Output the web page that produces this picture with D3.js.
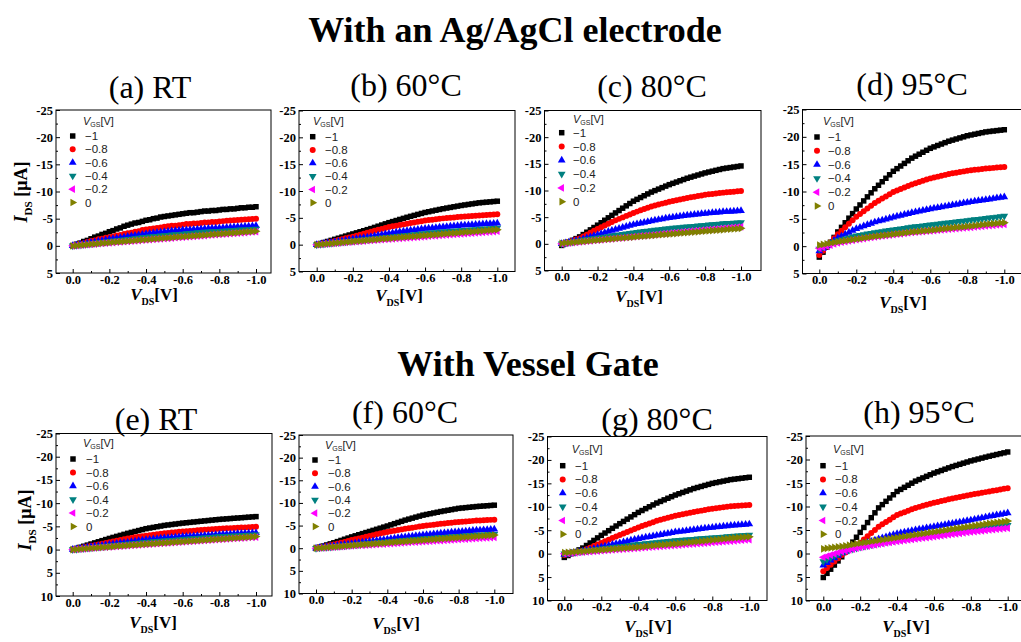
<!DOCTYPE html>
<html>
<head>
<meta charset="utf-8">
<script src="https://cdn.jsdelivr.net/npm/d3@7"></script>
<style>
  body { margin: 0; background: #fff; }
  svg { display: block; }
</style>
</head>
<body>
<svg id="chart"></svg>
<script>
// V_DS sweep (V), shared by every curve
var vds = [0,-0.02,-0.04,-0.06,-0.08,-0.1,-0.12,-0.14,-0.16,-0.18,-0.2,-0.22,-0.24,-0.26,-0.28,-0.3,-0.32,-0.34,-0.36,-0.38,-0.4,-0.42,-0.44,-0.46,-0.48,-0.5,-0.52,-0.54,-0.56,-0.58,-0.6,-0.62,-0.64,-0.66,-0.68,-0.7,-0.72,-0.74,-0.76,-0.78,-0.8,-0.82,-0.84,-0.86,-0.88,-0.9,-0.92,-0.94,-0.96,-0.98,-1.0];

var vgsLabels = ["\u22121", "\u22120.8", "\u22120.6", "\u22120.4", "\u22120.2", "0"];
var panelTitles = ["(a) RT", "(b) 60\u00b0C", "(c) 80\u00b0C", "(d) 95\u00b0C", "(e) RT", "(f) 60\u00b0C", "(g) 80\u00b0C", "(h) 95\u00b0C"];
var groupTitles = ["With an Ag/AgCl electrode", "With Vessel Gate"];
var xTicks = [0, -0.2, -0.4, -0.6, -0.8, -1.0];
var xMinor = [-0.1, -0.3, -0.5, -0.7, -0.9];
var yTicksAg = [-25, -20, -15, -10, -5, 0, 5];
var yTicksVessel = [-25, -20, -15, -10, -5, 0, 5, 10];

// I_DS (uA), Ag/AgCl electrode
var agRT_vg1 = [0,-0.3,-0.5,-0.8,-1.0,-1.3,-1.6,-1.8,-2.1,-2.3,-2.6,-2.8,-3.1,-3.3,-3.6,-3.8,-4.0,-4.2,-4.3,-4.5,-4.7,-4.8,-5.0,-5.1,-5.3,-5.4,-5.5,-5.6,-5.7,-5.8,-5.9,-6.0,-6.1,-6.1,-6.2,-6.3,-6.4,-6.4,-6.5,-6.5,-6.6,-6.7,-6.7,-6.8,-6.8,-6.9,-7.0,-7.0,-7.1,-7.1,-7.2];
var agRT_vg08 = [0,-0.2,-0.4,-0.5,-0.7,-0.9,-1.0,-1.2,-1.3,-1.5,-1.6,-1.7,-1.9,-2.0,-2.2,-2.3,-2.4,-2.6,-2.7,-2.9,-3.0,-3.1,-3.2,-3.3,-3.4,-3.5,-3.6,-3.7,-3.7,-3.8,-3.9,-4.0,-4.0,-4.1,-4.1,-4.2,-4.3,-4.3,-4.4,-4.4,-4.5,-4.55,-4.6,-4.65,-4.7,-4.75,-4.8,-4.85,-4.9,-4.95,-5.0];
var agRT_vg06 = [0,-0.12,-0.24,-0.36,-0.48,-0.6,-0.72,-0.84,-0.96,-1.08,-1.2,-1.3,-1.4,-1.5,-1.6,-1.7,-1.8,-1.9,-2.0,-2.1,-2.2,-2.28,-2.36,-2.44,-2.52,-2.6,-2.66,-2.72,-2.78,-2.84,-2.9,-2.94,-2.98,-3.02,-3.06,-3.1,-3.14,-3.18,-3.22,-3.26,-3.3,-3.34,-3.38,-3.42,-3.46,-3.5,-3.54,-3.58,-3.62,-3.66,-3.7];
var agRT_vg04 = [0,-0.08,-0.16,-0.24,-0.32,-0.4,-0.48,-0.56,-0.64,-0.72,-0.8,-0.88,-0.96,-1.04,-1.12,-1.2,-1.28,-1.36,-1.44,-1.52,-1.6,-1.66,-1.72,-1.78,-1.84,-1.9,-1.96,-2.02,-2.08,-2.14,-2.2,-2.26,-2.32,-2.38,-2.44,-2.5,-2.54,-2.58,-2.62,-2.66,-2.7,-2.74,-2.78,-2.82,-2.86,-2.9,-2.94,-2.98,-3.02,-3.06,-3.1];
var agRT_vg02 = [0,-0.06,-0.11,-0.17,-0.22,-0.28,-0.33,-0.39,-0.44,-0.5,-0.55,-0.6,-0.66,-0.71,-0.77,-0.82,-0.87,-0.92,-0.98,-1.03,-1.08,-1.13,-1.18,-1.24,-1.29,-1.34,-1.39,-1.44,-1.5,-1.55,-1.6,-1.65,-1.7,-1.75,-1.8,-1.85,-1.9,-1.95,-2.0,-2.05,-2.1,-2.15,-2.2,-2.25,-2.3,-2.35,-2.4,-2.45,-2.5,-2.55,-2.6];
var agRT_vg0 = [0,-0.06,-0.12,-0.18,-0.24,-0.3,-0.36,-0.42,-0.48,-0.54,-0.6,-0.66,-0.71,-0.77,-0.82,-0.88,-0.93,-0.99,-1.04,-1.1,-1.15,-1.2,-1.26,-1.31,-1.37,-1.42,-1.47,-1.52,-1.58,-1.63,-1.68,-1.73,-1.78,-1.84,-1.89,-1.94,-1.99,-2.04,-2.1,-2.15,-2.2,-2.25,-2.3,-2.35,-2.4,-2.45,-2.5,-2.55,-2.6,-2.65,-2.7];

var ag60_vg1 = [0,-0.2,-0.4,-0.6,-0.8,-1.0,-1.2,-1.4,-1.6,-1.8,-2.0,-2.2,-2.4,-2.6,-2.8,-3.0,-3.22,-3.44,-3.66,-3.88,-4.1,-4.3,-4.5,-4.7,-4.9,-5.1,-5.28,-5.46,-5.64,-5.82,-6.0,-6.14,-6.28,-6.42,-6.56,-6.7,-6.82,-6.94,-7.06,-7.18,-7.3,-7.4,-7.5,-7.6,-7.7,-7.8,-7.86,-7.92,-7.98,-8.04,-8.1];
var ag60_vg08 = [0,-0.14,-0.28,-0.42,-0.56,-0.7,-0.86,-1.02,-1.18,-1.34,-1.5,-1.68,-1.86,-2.04,-2.22,-2.4,-2.58,-2.76,-2.94,-3.12,-3.3,-3.42,-3.54,-3.66,-3.78,-3.9,-4.02,-4.14,-4.26,-4.38,-4.5,-4.58,-4.66,-4.74,-4.82,-4.9,-4.96,-5.02,-5.08,-5.14,-5.2,-5.25,-5.3,-5.35,-5.4,-5.45,-5.49,-5.53,-5.57,-5.61,-5.65];
var ag60_vg06 = [0,-0.1,-0.2,-0.3,-0.4,-0.5,-0.6,-0.7,-0.8,-0.9,-1.0,-1.1,-1.2,-1.3,-1.4,-1.5,-1.62,-1.74,-1.86,-1.98,-2.1,-2.2,-2.3,-2.4,-2.5,-2.6,-2.68,-2.76,-2.84,-2.92,-3.0,-3.06,-3.12,-3.18,-3.24,-3.3,-3.36,-3.42,-3.48,-3.54,-3.6,-3.64,-3.68,-3.72,-3.76,-3.8,-3.84,-3.88,-3.92,-3.96,-4.0];
var ag60_vg04 = [0,-0.07,-0.14,-0.21,-0.28,-0.35,-0.42,-0.49,-0.56,-0.63,-0.7,-0.77,-0.84,-0.91,-0.98,-1.05,-1.12,-1.19,-1.26,-1.33,-1.4,-1.47,-1.54,-1.61,-1.68,-1.75,-1.82,-1.89,-1.96,-2.03,-2.1,-2.16,-2.22,-2.28,-2.34,-2.4,-2.45,-2.5,-2.55,-2.6,-2.65,-2.7,-2.75,-2.8,-2.85,-2.9,-2.94,-2.98,-3.02,-3.06,-3.1];
var ag60_vg02 = [0,-0.05,-0.1,-0.16,-0.21,-0.26,-0.31,-0.36,-0.42,-0.47,-0.52,-0.57,-0.62,-0.68,-0.73,-0.78,-0.83,-0.88,-0.93,-0.98,-1.03,-1.08,-1.13,-1.18,-1.23,-1.28,-1.33,-1.38,-1.42,-1.47,-1.52,-1.57,-1.62,-1.66,-1.71,-1.76,-1.81,-1.86,-1.9,-1.95,-2.0,-2.05,-2.1,-2.15,-2.2,-2.25,-2.3,-2.35,-2.4,-2.45,-2.5];
var ag60_vg0 = [0,-0.06,-0.12,-0.18,-0.24,-0.3,-0.36,-0.42,-0.48,-0.54,-0.6,-0.66,-0.72,-0.77,-0.83,-0.89,-0.95,-1.0,-1.06,-1.11,-1.17,-1.23,-1.28,-1.34,-1.39,-1.45,-1.5,-1.56,-1.61,-1.67,-1.72,-1.78,-1.83,-1.89,-1.94,-2.0,-2.05,-2.11,-2.16,-2.22,-2.27,-2.32,-2.38,-2.43,-2.49,-2.54,-2.59,-2.64,-2.7,-2.75,-2.8];

var ag80_vg1 = [0.3,-0.02,-0.34,-0.66,-0.98,-1.3,-1.74,-2.18,-2.62,-3.06,-3.5,-3.96,-4.42,-4.88,-5.34,-5.8,-6.24,-6.68,-7.12,-7.56,-8.0,-8.34,-8.68,-9.02,-9.36,-9.7,-9.98,-10.26,-10.54,-10.82,-11.1,-11.34,-11.58,-11.82,-12.06,-12.3,-12.5,-12.7,-12.9,-13.1,-13.3,-13.46,-13.62,-13.78,-13.94,-14.1,-14.2,-14.3,-14.4,-14.5,-14.6];
var ag80_vg08 = [0,-0.2,-0.4,-0.6,-0.8,-1.0,-1.36,-1.72,-2.08,-2.44,-2.8,-3.12,-3.44,-3.76,-4.08,-4.4,-4.68,-4.96,-5.24,-5.52,-5.8,-6.04,-6.28,-6.52,-6.76,-7.0,-7.18,-7.36,-7.54,-7.72,-7.9,-8.04,-8.18,-8.32,-8.46,-8.6,-8.72,-8.84,-8.96,-9.08,-9.2,-9.28,-9.36,-9.44,-9.52,-9.6,-9.66,-9.72,-9.78,-9.84,-9.9];
var ag80_vg06 = [0,-0.14,-0.28,-0.42,-0.56,-0.7,-0.9,-1.1,-1.3,-1.5,-1.7,-1.9,-2.1,-2.3,-2.5,-2.7,-2.88,-3.06,-3.24,-3.42,-3.6,-3.74,-3.88,-4.02,-4.16,-4.3,-4.42,-4.54,-4.66,-4.78,-4.9,-4.99,-5.08,-5.17,-5.26,-5.35,-5.42,-5.49,-5.56,-5.63,-5.7,-5.76,-5.82,-5.88,-5.94,-6.0,-6.04,-6.08,-6.12,-6.16,-6.2];
var ag80_vg04 = [0,-0.12,-0.24,-0.36,-0.48,-0.6,-0.7,-0.8,-0.9,-1.0,-1.1,-1.2,-1.3,-1.4,-1.5,-1.6,-1.7,-1.8,-1.9,-2.0,-2.1,-2.18,-2.26,-2.34,-2.42,-2.5,-2.58,-2.66,-2.74,-2.82,-2.9,-2.96,-3.02,-3.08,-3.14,-3.2,-3.26,-3.32,-3.38,-3.44,-3.5,-3.56,-3.62,-3.68,-3.74,-3.8,-3.84,-3.88,-3.92,-3.96,-4.0];
var ag80_vg02 = [0,-0.07,-0.14,-0.21,-0.28,-0.35,-0.42,-0.49,-0.56,-0.63,-0.7,-0.76,-0.82,-0.88,-0.94,-1.0,-1.07,-1.14,-1.21,-1.28,-1.35,-1.41,-1.47,-1.53,-1.59,-1.65,-1.72,-1.79,-1.86,-1.93,-2.0,-2.06,-2.12,-2.18,-2.24,-2.3,-2.36,-2.42,-2.48,-2.54,-2.6,-2.66,-2.72,-2.78,-2.84,-2.9,-2.96,-3.02,-3.08,-3.14,-3.2];
var ag80_vg0 = [-0.1,-0.16,-0.22,-0.28,-0.34,-0.4,-0.46,-0.52,-0.58,-0.64,-0.7,-0.76,-0.82,-0.87,-0.93,-0.99,-1.05,-1.1,-1.16,-1.21,-1.27,-1.33,-1.38,-1.44,-1.49,-1.55,-1.6,-1.66,-1.71,-1.77,-1.82,-1.88,-1.93,-1.99,-2.04,-2.1,-2.15,-2.21,-2.26,-2.32,-2.37,-2.42,-2.48,-2.53,-2.59,-2.64,-2.69,-2.74,-2.8,-2.85,-2.9];

var ag95_vg1 = [2.0,1.1,0.2,-0.7,-1.6,-2.6,-3.44,-4.28,-5.12,-5.96,-6.8,-7.54,-8.28,-9.02,-9.76,-10.5,-11.14,-11.78,-12.42,-13.06,-13.7,-14.18,-14.66,-15.14,-15.62,-16.1,-16.46,-16.82,-17.18,-17.54,-17.9,-18.16,-18.42,-18.68,-18.94,-19.2,-19.4,-19.6,-19.8,-20.0,-20.2,-20.34,-20.48,-20.62,-20.76,-20.9,-20.98,-21.06,-21.14,-21.22,-21.3];
var ag95_vg08 = [1.6,0.84,0.08,-0.68,-1.44,-2.2,-2.84,-3.48,-4.12,-4.76,-5.4,-5.9,-6.4,-6.9,-7.4,-7.9,-8.3,-8.7,-9.1,-9.5,-9.9,-10.18,-10.46,-10.74,-11.02,-11.3,-11.52,-11.74,-11.96,-12.18,-12.4,-12.56,-12.72,-12.88,-13.04,-13.2,-13.32,-13.44,-13.56,-13.68,-13.8,-13.88,-13.96,-14.04,-14.12,-14.2,-14.26,-14.32,-14.38,-14.44,-14.5];
var ag95_vg06 = [0.9,0.42,-0.06,-0.54,-1.02,-1.5,-1.84,-2.18,-2.52,-2.86,-3.2,-3.44,-3.68,-3.92,-4.16,-4.4,-4.58,-4.76,-4.94,-5.12,-5.3,-5.46,-5.62,-5.78,-5.94,-6.1,-6.24,-6.38,-6.52,-6.66,-6.8,-6.92,-7.04,-7.16,-7.28,-7.4,-7.52,-7.64,-7.76,-7.88,-8.0,-8.1,-8.2,-8.3,-8.4,-8.5,-8.6,-8.7,-8.8,-8.9,-9.0];
var ag95_vg04 = [0.5,0.2,-0.1,-0.4,-0.7,-1.0,-1.18,-1.36,-1.54,-1.72,-1.9,-2.02,-2.14,-2.26,-2.38,-2.5,-2.6,-2.7,-2.8,-2.9,-3.0,-3.1,-3.2,-3.3,-3.4,-3.5,-3.58,-3.66,-3.74,-3.82,-3.9,-3.98,-4.06,-4.14,-4.22,-4.3,-4.38,-4.46,-4.54,-4.62,-4.7,-4.78,-4.86,-4.94,-5.02,-5.1,-5.18,-5.26,-5.34,-5.42,-5.5];
var ag95_vg02 = [0.4,0.2,0,-0.2,-0.4,-0.6,-0.72,-0.84,-0.96,-1.08,-1.2,-1.3,-1.4,-1.5,-1.6,-1.7,-1.78,-1.86,-1.94,-2.02,-2.1,-2.18,-2.26,-2.34,-2.42,-2.5,-2.56,-2.62,-2.68,-2.74,-2.8,-2.86,-2.92,-2.98,-3.04,-3.1,-3.16,-3.22,-3.28,-3.34,-3.4,-3.46,-3.52,-3.58,-3.64,-3.7,-3.76,-3.82,-3.88,-3.94,-4.0];
var ag95_vg0 = [-0.2,-0.32,-0.44,-0.56,-0.68,-0.8,-0.9,-1.0,-1.1,-1.2,-1.3,-1.4,-1.5,-1.6,-1.7,-1.8,-1.88,-1.96,-2.04,-2.12,-2.2,-2.28,-2.36,-2.44,-2.52,-2.6,-2.66,-2.72,-2.78,-2.84,-2.9,-2.98,-3.06,-3.14,-3.22,-3.3,-3.36,-3.42,-3.48,-3.54,-3.6,-3.68,-3.76,-3.84,-3.92,-4.0,-4.06,-4.12,-4.18,-4.24,-4.3];

// I_DS (uA), vessel gate
var vsRT_vg1 = [0,-0.24,-0.48,-0.72,-0.96,-1.2,-1.44,-1.68,-1.92,-2.16,-2.4,-2.62,-2.84,-3.06,-3.28,-3.5,-3.7,-3.9,-4.1,-4.3,-4.5,-4.64,-4.78,-4.92,-5.06,-5.2,-5.3,-5.4,-5.5,-5.6,-5.7,-5.78,-5.86,-5.94,-6.02,-6.1,-6.18,-6.26,-6.34,-6.42,-6.5,-6.56,-6.62,-6.68,-6.74,-6.8,-6.86,-6.92,-6.98,-7.04,-7.1];
var vsRT_vg08 = [0,-0.16,-0.32,-0.48,-0.64,-0.8,-0.96,-1.12,-1.28,-1.44,-1.6,-1.76,-1.92,-2.08,-2.24,-2.4,-2.52,-2.64,-2.76,-2.88,-3.0,-3.1,-3.2,-3.3,-3.4,-3.5,-3.58,-3.66,-3.74,-3.82,-3.9,-3.96,-4.02,-4.08,-4.14,-4.2,-4.26,-4.32,-4.38,-4.44,-4.5,-4.54,-4.58,-4.62,-4.66,-4.7,-4.74,-4.78,-4.82,-4.86,-4.9];
var vsRT_vg06 = [0,-0.12,-0.24,-0.36,-0.48,-0.6,-0.7,-0.8,-0.9,-1.0,-1.1,-1.2,-1.3,-1.4,-1.5,-1.6,-1.7,-1.8,-1.9,-2.0,-2.1,-2.18,-2.26,-2.34,-2.42,-2.5,-2.56,-2.62,-2.68,-2.74,-2.8,-2.84,-2.88,-2.92,-2.96,-3.0,-3.05,-3.1,-3.15,-3.2,-3.25,-3.29,-3.33,-3.37,-3.41,-3.45,-3.48,-3.51,-3.54,-3.57,-3.6];
var vsRT_vg04 = [0,-0.08,-0.16,-0.24,-0.32,-0.4,-0.48,-0.56,-0.64,-0.72,-0.8,-0.88,-0.96,-1.04,-1.12,-1.2,-1.28,-1.36,-1.44,-1.52,-1.6,-1.66,-1.72,-1.78,-1.84,-1.9,-1.96,-2.02,-2.08,-2.14,-2.2,-2.26,-2.32,-2.38,-2.44,-2.5,-2.56,-2.62,-2.68,-2.74,-2.8,-2.84,-2.88,-2.92,-2.96,-3.0,-3.04,-3.08,-3.12,-3.16,-3.2];
var vsRT_vg02 = [0,-0.06,-0.12,-0.17,-0.23,-0.29,-0.35,-0.4,-0.46,-0.51,-0.57,-0.63,-0.68,-0.74,-0.79,-0.85,-0.9,-0.96,-1.01,-1.07,-1.12,-1.17,-1.23,-1.28,-1.34,-1.39,-1.44,-1.49,-1.55,-1.6,-1.65,-1.7,-1.76,-1.81,-1.87,-1.92,-1.97,-2.02,-2.08,-2.13,-2.18,-2.23,-2.28,-2.34,-2.39,-2.44,-2.49,-2.54,-2.6,-2.65,-2.7];
var vsRT_vg0 = [0,-0.06,-0.12,-0.18,-0.24,-0.3,-0.36,-0.42,-0.48,-0.54,-0.6,-0.66,-0.72,-0.77,-0.83,-0.89,-0.95,-1.0,-1.06,-1.11,-1.17,-1.23,-1.28,-1.34,-1.39,-1.45,-1.5,-1.56,-1.61,-1.67,-1.72,-1.78,-1.83,-1.89,-1.94,-2.0,-2.05,-2.11,-2.16,-2.22,-2.27,-2.32,-2.38,-2.43,-2.49,-2.54,-2.59,-2.64,-2.7,-2.75,-2.8];

var vs60_vg1 = [0,-0.24,-0.48,-0.72,-0.96,-1.2,-1.46,-1.72,-1.98,-2.24,-2.5,-2.74,-2.98,-3.22,-3.46,-3.7,-3.94,-4.18,-4.42,-4.66,-4.9,-5.16,-5.42,-5.68,-5.94,-6.2,-6.42,-6.64,-6.86,-7.08,-7.3,-7.46,-7.62,-7.78,-7.94,-8.1,-8.24,-8.38,-8.52,-8.66,-8.8,-8.88,-8.96,-9.04,-9.12,-9.2,-9.26,-9.32,-9.38,-9.44,-9.5];
var vs60_vg08 = [0,-0.16,-0.32,-0.48,-0.64,-0.8,-1.0,-1.2,-1.4,-1.6,-1.8,-1.98,-2.16,-2.34,-2.52,-2.7,-2.88,-3.06,-3.24,-3.42,-3.6,-3.74,-3.88,-4.02,-4.16,-4.3,-4.42,-4.54,-4.66,-4.78,-4.9,-5.0,-5.1,-5.2,-5.3,-5.4,-5.48,-5.56,-5.64,-5.72,-5.8,-5.86,-5.92,-5.98,-6.04,-6.1,-6.14,-6.18,-6.22,-6.26,-6.3];
var vs60_vg06 = [0,-0.1,-0.2,-0.3,-0.4,-0.5,-0.6,-0.7,-0.8,-0.9,-1.0,-1.1,-1.2,-1.3,-1.4,-1.5,-1.6,-1.7,-1.8,-1.9,-2.0,-2.1,-2.2,-2.3,-2.4,-2.5,-2.58,-2.66,-2.74,-2.82,-2.9,-2.98,-3.06,-3.14,-3.22,-3.3,-3.37,-3.44,-3.51,-3.58,-3.65,-3.71,-3.77,-3.83,-3.89,-3.95,-4.0,-4.05,-4.1,-4.15,-4.2];
var vs60_vg04 = [0,-0.07,-0.14,-0.21,-0.28,-0.35,-0.42,-0.49,-0.56,-0.63,-0.7,-0.77,-0.84,-0.91,-0.98,-1.05,-1.12,-1.19,-1.26,-1.33,-1.4,-1.47,-1.54,-1.61,-1.68,-1.75,-1.82,-1.89,-1.96,-2.03,-2.1,-2.16,-2.22,-2.28,-2.34,-2.4,-2.45,-2.5,-2.55,-2.6,-2.65,-2.7,-2.75,-2.8,-2.85,-2.9,-2.94,-2.98,-3.02,-3.06,-3.1];
var vs60_vg02 = [0,-0.05,-0.1,-0.15,-0.2,-0.25,-0.3,-0.35,-0.4,-0.45,-0.5,-0.55,-0.6,-0.64,-0.69,-0.74,-0.79,-0.84,-0.88,-0.93,-0.98,-1.03,-1.08,-1.12,-1.17,-1.22,-1.27,-1.32,-1.36,-1.41,-1.46,-1.51,-1.56,-1.6,-1.65,-1.7,-1.75,-1.79,-1.84,-1.88,-1.93,-1.98,-2.03,-2.07,-2.12,-2.17,-2.22,-2.26,-2.31,-2.35,-2.4];
var vs60_vg0 = [0,-0.06,-0.12,-0.19,-0.25,-0.31,-0.37,-0.43,-0.5,-0.56,-0.62,-0.68,-0.74,-0.8,-0.86,-0.92,-0.98,-1.04,-1.09,-1.15,-1.21,-1.27,-1.33,-1.38,-1.44,-1.5,-1.56,-1.61,-1.67,-1.72,-1.78,-1.84,-1.9,-1.95,-2.01,-2.07,-2.13,-2.18,-2.24,-2.29,-2.35,-2.41,-2.46,-2.52,-2.57,-2.63,-2.68,-2.74,-2.79,-2.85,-2.9];

var vs80_vg1 = [0.8,0.4,0,-0.4,-0.8,-1.2,-1.74,-2.28,-2.82,-3.36,-3.9,-4.4,-4.9,-5.4,-5.9,-6.4,-6.88,-7.36,-7.84,-8.32,-8.8,-9.2,-9.6,-10.0,-10.4,-10.8,-11.14,-11.48,-11.82,-12.16,-12.5,-12.78,-13.06,-13.34,-13.62,-13.9,-14.12,-14.34,-14.56,-14.78,-15.0,-15.16,-15.32,-15.48,-15.64,-15.8,-15.9,-16.0,-16.1,-16.2,-16.3];
var vs80_vg08 = [0.3,0.12,-0.06,-0.24,-0.42,-0.6,-0.94,-1.28,-1.62,-1.96,-2.3,-2.64,-2.98,-3.32,-3.66,-4.0,-4.32,-4.64,-4.96,-5.28,-5.6,-5.88,-6.16,-6.44,-6.72,-7.0,-7.22,-7.44,-7.66,-7.88,-8.1,-8.26,-8.42,-8.58,-8.74,-8.9,-9.04,-9.18,-9.32,-9.46,-9.6,-9.7,-9.8,-9.9,-10.0,-10.1,-10.16,-10.22,-10.28,-10.34,-10.4];
var vs80_vg06 = [0.2,0.06,-0.08,-0.22,-0.36,-0.5,-0.68,-0.86,-1.04,-1.22,-1.4,-1.58,-1.76,-1.94,-2.12,-2.3,-2.48,-2.66,-2.84,-3.02,-3.2,-3.34,-3.48,-3.62,-3.76,-3.9,-4.04,-4.18,-4.32,-4.46,-4.6,-4.7,-4.8,-4.9,-5.0,-5.1,-5.2,-5.3,-5.4,-5.5,-5.6,-5.68,-5.76,-5.84,-5.92,-6.0,-6.06,-6.12,-6.18,-6.24,-6.3];
var vs80_vg04 = [0,-0.1,-0.2,-0.3,-0.4,-0.5,-0.6,-0.7,-0.8,-0.9,-1.0,-1.1,-1.2,-1.3,-1.4,-1.5,-1.6,-1.7,-1.8,-1.9,-2.0,-2.08,-2.16,-2.24,-2.32,-2.4,-2.48,-2.56,-2.64,-2.72,-2.8,-2.86,-2.92,-2.98,-3.04,-3.1,-3.16,-3.22,-3.28,-3.34,-3.4,-3.46,-3.52,-3.58,-3.64,-3.7,-3.76,-3.82,-3.88,-3.94,-4.0];
var vs80_vg02 = [0,-0.06,-0.13,-0.19,-0.26,-0.32,-0.38,-0.44,-0.5,-0.56,-0.62,-0.68,-0.74,-0.8,-0.86,-0.92,-0.98,-1.03,-1.09,-1.14,-1.2,-1.26,-1.32,-1.38,-1.44,-1.5,-1.56,-1.61,-1.67,-1.72,-1.78,-1.84,-1.9,-1.96,-2.02,-2.08,-2.14,-2.2,-2.26,-2.32,-2.38,-2.44,-2.5,-2.56,-2.62,-2.68,-2.74,-2.81,-2.87,-2.94,-3.0];
var vs80_vg0 = [-0.2,-0.26,-0.32,-0.38,-0.44,-0.5,-0.56,-0.62,-0.68,-0.74,-0.8,-0.86,-0.92,-0.98,-1.04,-1.1,-1.16,-1.22,-1.28,-1.34,-1.4,-1.48,-1.56,-1.64,-1.72,-1.8,-1.86,-1.92,-1.98,-2.04,-2.1,-2.18,-2.26,-2.34,-2.42,-2.5,-2.58,-2.66,-2.74,-2.82,-2.9,-2.98,-3.06,-3.14,-3.22,-3.3,-3.36,-3.42,-3.48,-3.54,-3.6];

var vs95_vg1 = [5.1,4.22,3.34,2.46,1.58,0.7,-0.34,-1.38,-2.42,-3.46,-4.5,-5.54,-6.58,-7.62,-8.66,-9.7,-10.4,-11.1,-11.8,-12.5,-13.2,-13.64,-14.08,-14.52,-14.96,-15.4,-15.74,-16.08,-16.42,-16.76,-17.1,-17.38,-17.66,-17.94,-18.22,-18.5,-18.74,-18.98,-19.22,-19.46,-19.7,-19.9,-20.1,-20.3,-20.5,-20.7,-20.88,-21.06,-21.24,-21.42,-21.6];
var vs95_vg08 = [3.8,3.1,2.4,1.7,1.0,0.3,-0.22,-0.74,-1.26,-1.78,-2.3,-2.98,-3.66,-4.34,-5.02,-5.7,-6.2,-6.7,-7.2,-7.7,-8.2,-8.5,-8.8,-9.1,-9.4,-9.7,-9.92,-10.14,-10.36,-10.58,-10.8,-10.98,-11.16,-11.34,-11.52,-11.7,-11.86,-12.02,-12.18,-12.34,-12.5,-12.64,-12.78,-12.92,-13.06,-13.2,-13.34,-13.48,-13.62,-13.76,-13.9];
var vs95_vg06 = [2.5,1.98,1.46,0.94,0.42,-0.1,-0.44,-0.78,-1.12,-1.46,-1.8,-2.06,-2.32,-2.58,-2.84,-3.1,-3.32,-3.54,-3.76,-3.98,-4.2,-4.36,-4.52,-4.68,-4.84,-5.0,-5.14,-5.28,-5.42,-5.56,-5.7,-5.84,-5.98,-6.12,-6.26,-6.4,-6.54,-6.68,-6.82,-6.96,-7.1,-7.26,-7.42,-7.58,-7.74,-7.9,-8.04,-8.18,-8.32,-8.46,-8.6];
var vs95_vg04 = [1.7,1.3,0.9,0.5,0.1,-0.3,-0.52,-0.74,-0.96,-1.18,-1.4,-1.56,-1.72,-1.88,-2.04,-2.2,-2.34,-2.48,-2.62,-2.76,-2.9,-3.02,-3.14,-3.26,-3.38,-3.5,-3.6,-3.7,-3.8,-3.9,-4.0,-4.1,-4.2,-4.3,-4.4,-4.5,-4.6,-4.7,-4.8,-4.9,-5.0,-5.1,-5.2,-5.3,-5.4,-5.5,-5.6,-5.7,-5.8,-5.9,-6.0];
var vs95_vg02 = [0.8,0.56,0.32,0.08,-0.16,-0.4,-0.58,-0.76,-0.94,-1.12,-1.3,-1.44,-1.58,-1.72,-1.86,-2.0,-2.12,-2.24,-2.36,-2.48,-2.6,-2.7,-2.8,-2.9,-3.0,-3.1,-3.2,-3.3,-3.4,-3.5,-3.6,-3.7,-3.8,-3.9,-4.0,-4.1,-4.2,-4.3,-4.4,-4.5,-4.6,-4.68,-4.76,-4.84,-4.92,-5.0,-5.08,-5.16,-5.24,-5.32,-5.4];
var vs95_vg0 = [-1.0,-1.1,-1.2,-1.3,-1.4,-1.5,-1.64,-1.78,-1.92,-2.06,-2.2,-2.32,-2.44,-2.56,-2.68,-2.8,-2.92,-3.04,-3.16,-3.28,-3.4,-3.52,-3.64,-3.76,-3.88,-4.0,-4.12,-4.24,-4.36,-4.48,-4.6,-4.72,-4.84,-4.96,-5.08,-5.2,-5.32,-5.44,-5.56,-5.68,-5.8,-5.92,-6.04,-6.16,-6.28,-6.4,-6.5,-6.6,-6.7,-6.8,-6.9];

var panelSeries = [
  [agRT_vg1, agRT_vg08, agRT_vg06, agRT_vg04, agRT_vg02, agRT_vg0],
  [ag60_vg1, ag60_vg08, ag60_vg06, ag60_vg04, ag60_vg02, ag60_vg0],
  [ag80_vg1, ag80_vg08, ag80_vg06, ag80_vg04, ag80_vg02, ag80_vg0],
  [ag95_vg1, ag95_vg08, ag95_vg06, ag95_vg04, ag95_vg02, ag95_vg0],
  [vsRT_vg1, vsRT_vg08, vsRT_vg06, vsRT_vg04, vsRT_vg02, vsRT_vg0],
  [vs60_vg1, vs60_vg08, vs60_vg06, vs60_vg04, vs60_vg02, vs60_vg0],
  [vs80_vg1, vs80_vg08, vs80_vg06, vs80_vg04, vs80_vg02, vs80_vg0],
  [vs95_vg1, vs95_vg08, vs95_vg06, vs95_vg04, vs95_vg02, vs95_vg0]
];
var panelYTicks = [yTicksAg, yTicksAg, yTicksAg, yTicksAg, yTicksVessel, yTicksVessel, yTicksVessel, yTicksVessel];

// ---- styles and layout ----
var colors = ["#000000", "#ff0000", "#0000ff", "#008080", "#ff00ff", "#808000"];
var markers = [
  {type: d3.symbolSquare, size: 30, rot: 0},
  {type: d3.symbolCircle, size: 28, rot: 0},
  {type: d3.symbolTriangle, size: 26, rot: 0},
  {type: d3.symbolTriangle, size: 26, rot: 180},
  {type: d3.symbolTriangle, size: 26, rot: -90},
  {type: d3.symbolTriangle, size: 26, rot: 90}
];
var serif = "'Liberation Serif','Times New Roman',serif";
var sans = "'Liberation Sans',Arial,sans-serif";

// frame box, pixel of 0.0 / -1.0, title, axis labels, legend
var layout = [
  {L:56, T:110, R:271, B:273, x0:72.7, x1:256, tx:150, ty:98, lx:154, ly:300, ylx:27, yly:192, hx:83, hy:125, mx:72.7, lt:85, ry:136, dy:13.3},
  {L:299, T:110.5, R:515, B:271.5, x0:316.7, x1:497.3, tx:406, ty:96, lx:399, ly:301, hx:313, hy:125, mx:312.7, lt:325, ry:136.7, dy:13.2},
  {L:544.5, T:110.5, R:761, B:270.5, x0:561.7, x1:741, tx:652, ty:97, lx:639, ly:302, hx:573, hy:123, mx:561.7, lt:573, ry:132.7, dy:13.8},
  {L:802.5, T:109.5, R:1040, B:273.5, x0:819.3, x1:1004.3, tx:912, ty:95, lx:903, ly:308, hx:823, hy:125, mx:817, lt:828, ry:137, dy:13.8},
  {L:56, T:433.5, R:272, B:596, x0:72.7, x1:256, tx:156, ty:430, lx:153, ly:628, ylx:31, yly:520, hx:83, hy:447, mx:73, lt:86, ry:459, dy:13.5},
  {L:299, T:435, R:513, B:593.5, x0:316, x1:494.3, tx:405, ty:423, lx:396, ly:629, hx:325, hy:449, mx:315, lt:328, ry:460, dy:13.3},
  {L:547.5, T:436.5, R:767, B:600.5, x0:564.3, x1:749.3, tx:657, ty:430, lx:648, ly:632, hx:571.7, hy:453, mx:562.7, lt:575, ry:465.7, dy:13.7},
  {L:806, T:436, R:1040, B:600.5, x0:823.3, x1:1007.7, tx:919, ty:423, lx:906, ly:632, hx:833, hy:453, mx:823, lt:835, ry:465.7, dy:13.7}
];

var svg = d3.select("#chart").attr("width", 1021).attr("height", 642);

// group headings
svg.append("text").attr("x", 515).attr("y", 42).attr("text-anchor", "middle")
  .attr("font-family", serif).attr("font-weight", "bold").attr("font-size", 36)
  .text(groupTitles[0]);
svg.append("text").attr("x", 528).attr("y", 376).attr("text-anchor", "middle")
  .attr("font-family", serif).attr("font-weight", "bold").attr("font-size", 36)
  .text(groupTitles[1]);

var fmtX = function(d) { return d === 0 ? "0.0" : "-" + Math.abs(d).toFixed(1); };
var fmtY = function(d) { return d < 0 ? "-" + Math.abs(d) : String(d); };

panelSeries.forEach(function(series, i) {
  var L = layout[i];
  var yt = panelYTicks[i];
  var x = d3.scaleLinear().domain([0, -1]).range([L.x0, L.x1]);
  var y = d3.scaleLinear().domain([yt[yt.length - 1], -25]).range([L.B, L.T]);
  var yMinor = yt.slice(1).map(function(v) { return v - 2.5; });

  var g = svg.append("g");

  // title
  g.append("text").attr("x", L.tx).attr("y", L.ty).attr("text-anchor", "middle")
    .attr("font-family", serif).attr("font-size", 32).text(panelTitles[i]);

  // axes, ticks pointing in
  var xa = g.append("g").attr("transform", "translate(0," + L.B + ")")
    .call(d3.axisBottom(x).tickValues(xTicks).tickSize(-4).tickPadding(2).tickFormat(fmtX));
  g.append("g").attr("transform", "translate(0," + L.B + ")")
    .call(d3.axisBottom(x).tickValues(xMinor).tickSize(-2).tickFormat(""));
  var ya = g.append("g").attr("transform", "translate(" + L.L + ",0)")
    .call(d3.axisLeft(y).tickValues(yt).tickSize(-4).tickPadding(3).tickFormat(fmtY));
  g.append("g").attr("transform", "translate(" + L.L + ",0)")
    .call(d3.axisLeft(y).tickValues(yMinor).tickSize(-2).tickFormat(""));
  g.selectAll(".domain").remove();
  g.selectAll(".tick line").attr("stroke", "#000");
  [xa, ya].forEach(function(a) {
    a.attr("font-family", serif).attr("font-size", 12.5).attr("font-weight", "bold");
    a.selectAll("text").attr("fill", "#000");
  });

  // frame
  g.append("rect").attr("x", L.L).attr("y", L.T)
    .attr("width", L.R - L.L).attr("height", L.B - L.T)
    .attr("fill", "none").attr("stroke", "#000").attr("stroke-width", 1);

  // data points
  series.forEach(function(s, k) {
    var m = markers[k];
    g.append("g").selectAll("path").data(s).enter().append("path")
      .attr("transform", function(d, j) {
        return "translate(" + x(vds[j]) + "," + y(d) + ") rotate(" + m.rot + ")";
      })
      .attr("d", d3.symbol().type(m.type).size(m.size))
      .attr("fill", colors[k]);
  });

  // legend
  var head = g.append("text").attr("x", L.hx).attr("y", L.hy)
    .attr("font-family", sans).attr("font-size", 11).attr("fill", "#222");
  head.append("tspan").attr("font-style", "italic").text("V");
  head.append("tspan").attr("font-size", 7).attr("dy", 2).text("GS");
  head.append("tspan").attr("dy", -2).text("[V]");
  vgsLabels.forEach(function(lab, k) {
    var cy = L.ry + k * L.dy, m = markers[k];
    g.append("path")
      .attr("transform", "translate(" + L.mx + "," + cy + ") rotate(" + m.rot + ")")
      .attr("d", d3.symbol().type(m.type).size(m.size))
      .attr("fill", colors[k]);
    g.append("text").attr("x", L.lt).attr("y", cy + 4)
      .attr("font-family", sans).attr("font-size", 11.5).attr("fill", "#222").text(lab);
  });

  // x axis label
  var xl = g.append("text").attr("x", L.lx).attr("y", L.ly).attr("text-anchor", "middle")
    .attr("font-family", serif).attr("font-weight", "bold").attr("font-size", 17);
  xl.append("tspan").attr("font-style", "italic").text("V");
  xl.append("tspan").attr("font-size", 10).attr("dy", 5).text("DS");
  xl.append("tspan").attr("dy", -5).text("[V]");

  // y axis label on the first column only
  if (L.ylx !== undefined) {
    var yl = g.append("text")
      .attr("transform", "translate(" + L.ylx + "," + L.yly + ") rotate(-90)")
      .attr("text-anchor", "middle")
      .attr("font-family", serif).attr("font-weight", "bold").attr("font-size", 18);
    yl.append("tspan").attr("font-style", "italic").text("I");
    yl.append("tspan").attr("font-size", 11).attr("dy", 5).text("DS");
    yl.append("tspan").attr("dy", -5).text(" [\u03bcA]");
  }
});
</script>
</body>
</html>
